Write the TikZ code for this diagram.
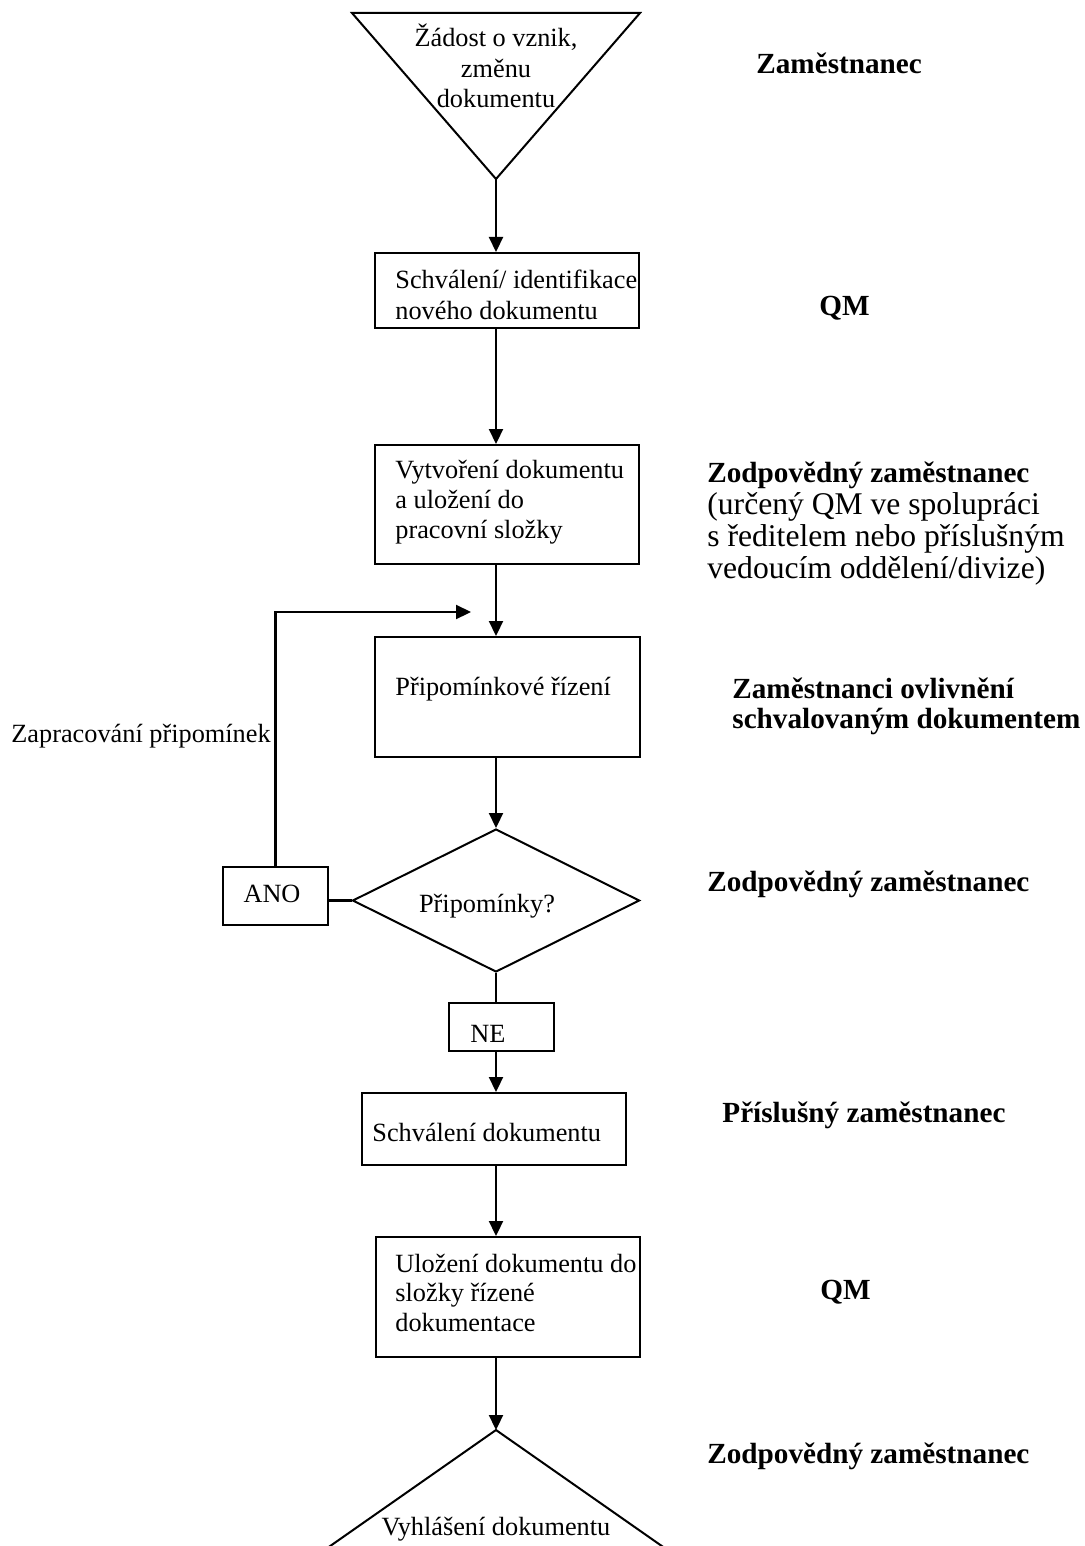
\documentclass[tikz,border=0pt]{standalone}
\usepackage{fontspec}
\setmainfont{Liberation Serif}
\usetikzlibrary{arrows.meta,shapes.geometric}

\begin{document}
\begin{tikzpicture}[x=0.5pt,y=-0.5pt,
  stepbox/.style={draw, line width=1pt, rectangle, inner sep=0pt},
  decision/.style={draw, line width=1pt, diamond, inner sep=0pt},
  outline/.style={line width=1pt, line join=miter},
  boxtext/.style={inner sep=0pt, anchor=base west, align=left, font=\fontsize{13.15}{15}\selectfont},
  ctext/.style={inner sep=0pt, anchor=base, align=center, font=\fontsize{13.15}{15.35}\selectfont},
  role/.style={inner sep=0pt, anchor=base west, align=left, font=\fontsize{14.6}{15}\selectfont\bfseries},
  rolenote/.style={inner sep=0pt, anchor=base west, align=left, font=\fontsize{15.8}{16}\selectfont},
  flow/.style={line width=1.1pt, -{Triangle[length=7.5pt,width=7pt]}},
  link/.style={line width=1.1pt}]

\useasboundingbox (0,0) rectangle (1084,1546);

% main vertical axis of the flow
\coordinate (spine) at (496,0);

% start: inverted triangle (multi-line texts are placed by their last baseline)
\coordinate (startL) at (352,13);
\coordinate (startR) at (640,13);
\coordinate (startTip) at (496,179);
\draw[outline] (startL) -- (startR) -- (startTip) -- cycle;
\node[ctext] (tstart) at (496,108) {Žádost o vznik,\\změnu\\dokumentu};

% process steps (sizes in pt, half of the coordinate units)
\node[stepbox, minimum width=132pt, minimum height=37.5pt] (box1) at (507,290.5) {};
\node[boxtext, font=\fontsize{13.15}{15.5}\selectfont] (t1) at (395,319) {Schválení/ identifikace\\nového dokumentu};

\node[stepbox, minimum width=132pt, minimum height=59.5pt] (box2) at (507,504.5) {};
\node[boxtext] (t2) at (395,538) {Vytvoření dokumentu\\a uložení do\\pracovní složky};

\node[stepbox, minimum width=132.5pt, minimum height=60pt] (box3) at (507.5,697) {};
\node[boxtext] (t3) at (395,695) {Připomínkové řízení};

\node[decision, minimum width=143.5pt, minimum height=71.5pt] (dia) at (496,900.5) {};
\node[ctext] (tdia) at (487,912) {Připomínky?};

\node[stepbox, minimum width=52.5pt, minimum height=29pt] (ano) at (275.5,896) {};
\node[ctext] (tano) at (272,902) {ANO};

\node[stepbox, minimum width=52.5pt, minimum height=24pt] (ne) at (501.5,1027) {};
\node[ctext] (tne) at (488,1042) {NE};

\node[stepbox, minimum width=132pt, minimum height=36pt] (box4) at (494,1129) {};
\node[boxtext] (t4) at (372,1141) {Schválení dokumentu};

\node[stepbox, minimum width=132pt, minimum height=60pt] (box5) at (508,1297) {};
\node[boxtext, font=\fontsize{13.15}{14.75}\selectfont] (t5) at (395,1331) {Uložení dokumentu do\\složky řízené\\dokumentace};

% end: triangle running off the bottom edge
\coordinate (endTip) at (496,1430);
\begin{scope}
  \clip (0,0) rectangle (1084,1546);
  \draw[outline] (253,1600) -- (endTip) -- (739,1600);
\end{scope}
\node[ctext] (tend) at (496,1535) {Vyhlášení dokumentu};

% connectors
\draw[flow] (startTip) -- (spine |- box1.north);
\draw[flow] (spine |- box1.south) -- (spine |- box2.north);
\draw[flow] (spine |- box2.south) -- (spine |- box3.north);
\draw[flow] (spine |- box3.south) -- (dia.north);
\draw[link] (dia.south) -- (spine |- ne.north);
\draw[flow] (spine |- ne.south) -- (spine |- box4.north);
\draw[flow] (spine |- box4.south) -- (spine |- box5.north);
\draw[flow] (spine |- box5.south) -- (endTip);
\draw[link] (dia.west -| ano.east) -- (dia.west);

% feedback loop
\coordinate (fbTip) at (471,612);
\draw[flow] (ano.north) |- (fbTip);
\node[inner sep=0pt, anchor=base west, font=\fontsize{13.15}{15}\selectfont] (tfb) at (11,742) {Zapracování připomínek};

% responsible roles
\node[role] (r1) at (756,74) {Zaměstnanec};
\node[role] (r2) at (819,315) {QM};
\node[role] (r3) at (707,482) {Zodpovědný zaměstnanec};
\node[rolenote] (r3n) at (707,578) {(určený QM ve spolupráci\\s ředitelem nebo příslušným\\vedoucím oddělení/divize)};
\node[role] (r4) at (732,728) {Zaměstnanci ovlivnění\\schvalovaným dokumentem};
\node[role] (r5) at (707,891) {Zodpovědný zaměstnanec};
\node[role] (r6) at (722,1122) {Příslušný zaměstnanec};
\node[role] (r7) at (820,1299) {QM};
\node[role] (r8) at (707,1463) {Zodpovědný zaměstnanec};
\end{tikzpicture}
\end{document}
